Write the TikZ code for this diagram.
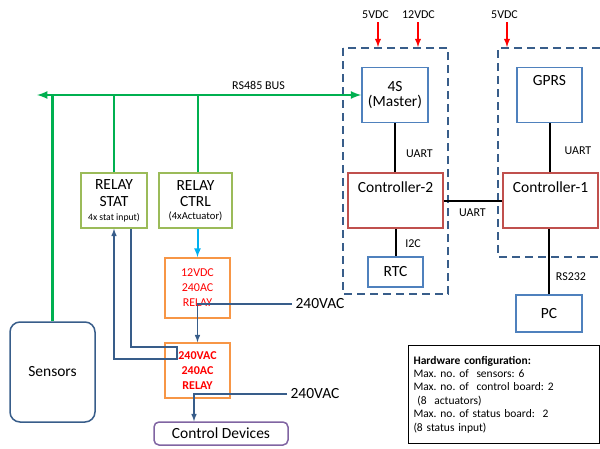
\documentclass[tikz,border=0pt]{standalone}
\usepackage{fontspec}
\setmainfont{Carlito}
\usepackage{tikz}
\usetikzlibrary{positioning}
\definecolor{busgreen}{RGB}{0,176,80}
\definecolor{boxblue}{RGB}{79,129,189}
\definecolor{boxred}{RGB}{192,80,77}
\definecolor{boxgreen}{RGB}{155,187,89}
\definecolor{boxorange}{RGB}{247,150,70}
\definecolor{sigblue}{RGB}{56,93,138}
\definecolor{relaycyan}{RGB}{0,176,240}
\definecolor{devpurple}{RGB}{128,100,162}
\frenchspacing

\begin{document}
\begin{tikzpicture}[x=1pt, y=-1pt,
    big/.style={font=\fontsize{15.5}{17}\selectfont},
    small/.style={font=\fontsize{12}{14}\selectfont},
    box/.style={draw, line width=1.5pt, inner sep=0pt, align=center},
    bluebox/.style={box, draw=boxblue, big},
    redbox/.style={box, draw=boxred},
    greenbox/.style={box, draw=boxgreen, big},
    relaybox/.style={box, draw=boxorange, text=red, font=\fontsize{12}{15}\selectfont},
    board/.style={draw=sigblue, line width=1.8pt, dash pattern=on 8pt off 5pt},
    bus/.style={draw=busgreen, line width=2.5pt},
    sig/.style={draw=sigblue, line width=1.5pt},
    link/.style={draw=black, line width=2pt},
    pwr/.style={draw=red, line width=1.8pt}]
  \useasboundingbox (0,0) rectangle (600,448);

  % boards
  \draw[board] (343,48) rectangle (448,294);
  \draw[board] (600,48) -- (498,48) -- (498,257) -- (600,257);

  % modules on the boards
  \node[bluebox, minimum width=66pt, minimum height=55pt,
        font=\fontsize{15.5}{15}\selectfont] (master) at (395,95) {4S\\(Master)};
  \node[bluebox, minimum width=65pt, minimum height=55pt] (gprs) at (549.5,95) {};
  \node[big] (gprstxt) at ([yshift=-14pt]gprs.north) {GPRS};
  \node[redbox, minimum width=95pt, minimum height=55pt] (ctrl2) at (395.5,200.5) {};
  \node[big] (ctrl2txt) at ([yshift=-15pt]ctrl2.north) {Controller-2};
  \node[redbox, minimum width=95pt, minimum height=55pt] (ctrl1) at (550.5,200.5) {};
  \node[big] (ctrl1txt) at ([yshift=-15pt]ctrl1.north) {Controller-1};
  \node[bluebox, minimum width=55pt, minimum height=30pt] (rtc) at (395.5,272) {RTC};
  \node[bluebox, minimum width=66pt, minimum height=37pt] (pc) at (549,313.5) {PC};

  % power inputs
  \node[small] (v5a) at (375.5,15) {5VDC};
  \node[small] (v12) at (418.5,15) {12VDC};
  \node[small] (v5b) at (504.5,15) {5VDC};
  \coordinate (p5a) at (378,47);
  \coordinate (p12) at (418,47);
  \coordinate (p5b) at (507,47);
  \draw[pwr, -latex] (p5a |- v5a.south) -- (p5a);
  \draw[pwr, -latex] (p12 |- v12.south) -- (p12);
  \draw[pwr, -latex] (p5b |- v5b.south) -- (p5b);

  % relay side
  \node[greenbox, minimum width=66pt, minimum height=55pt] (relstat) at (114,200.5)
    {RELAY\\STAT\\[-3pt]{\fontsize{9.7}{11}\selectfont 4x stat input)}};
  \node[greenbox, minimum width=73pt, minimum height=55pt,
        font=\fontsize{15.5}{16}\selectfont] (relctrl) at (195.5,200.5)
    {RELAY\\CTRL\\[-3pt]{\fontsize{10.6}{12}\selectfont (4xActuator)}};
  \node[relaybox, minimum width=65pt, minimum height=60pt] (relay12) at (197.5,288)
    {12VDC\\240AC\\RELAY};
  \node[relaybox, minimum width=65pt, minimum height=55pt, font=\bfseries\fontsize{12}{15}\selectfont]
    (relay240) at (197.5,370.5) {240VAC\\240AC\\RELAY};
  \node[box, draw=sigblue, rounded corners=10pt, big, minimum width=85pt,
        minimum height=100pt] (sensors) at (52.5,372) {Sensors};
  \node[box, draw=devpurple, rounded corners=5pt, big, minimum width=134pt,
        minimum height=23pt] (ctrldev) at (221,433.5) {Control Devices};
  \node[big] (vac1) at (320,304) {240VAC};
  \node[big] (vac2) at (315,394) {240VAC};

  % RS485 bus
  \coordinate (busW) at (37,95);
  \draw[bus, latex-latex] (busW) -- (master.west);
  \node[small] (buslbl) at (258.5,85) {RS485 BUS};
  \draw[bus] (sensors.north) -- (sensors.north |- busW);
  \draw[bus] (relstat.north) -- (relstat.north |- busW);
  \draw[bus] ([xshift=2.5pt]relctrl.north) -- ([xshift=2.5pt]relctrl.north |- busW);

  % relay wiring
  \draw[draw=relaycyan, line width=2pt, -latex] (relay12.north |- relctrl.south) -- (relay12.north);
  \draw[sig, -latex] (vac1.west) -- (vac1.west -| relay240.north) -- (relay240.north);
  \coordinate (drop2) at (194,393);
  \draw[sig, -latex] (vac2.west) -- (vac2.west -| drop2) -- (drop2 |- ctrldev.north);
  \coordinate (loopA) at (131,347);
  \coordinate (loopB) at (177,347);
  \coordinate (loopC) at (177,359);
  \coordinate (loopD) at (114,359);
  \draw[sig, -latex] (relstat.south -| loopA) -- (loopA) -- (loopB) -- (loopC)
    -- (loopD) -- (relstat.south);

  % board links
  \draw[link] (master.south) -- (master.south |- ctrl2.north);
  \node[small] (uart1) at (419.5,154) {UART};
  \draw[link] (gprs.south) -- (gprs.south |- ctrl1.north);
  \node[small] (uart2) at (578,151) {UART};
  \draw[link] (ctrl2.east) -- (ctrl1.west);
  \node[small] (uart3) at (472.5,213) {UART};
  \draw[link] (ctrl2.south) -- (rtc.north);
  \node[small] (i2c) at (413,244) {I2C};
  \draw[link] (ctrl1.south -| pc.north) -- (pc.north);
  \node[small] (rs232) at (571,277) {RS232};

  % hardware configuration
  \node[draw, line width=1pt, anchor=north west, minimum width=191pt, minimum height=98pt,
        text width=181pt, align=left, font=\fontsize{11.5}{13.4}\selectfont]
    (hwcfg) at (408,345)
    {\textbf{Hardware configuration:}\\
     Max. no. of\ \ sensors: 6\\
     Max. no. of\ \ control board: 2\\
     \ (8\ \ actuators)\\
     Max. no. of status board:\ \ 2\\
     (8 status input)};
\end{tikzpicture}
\end{document}
